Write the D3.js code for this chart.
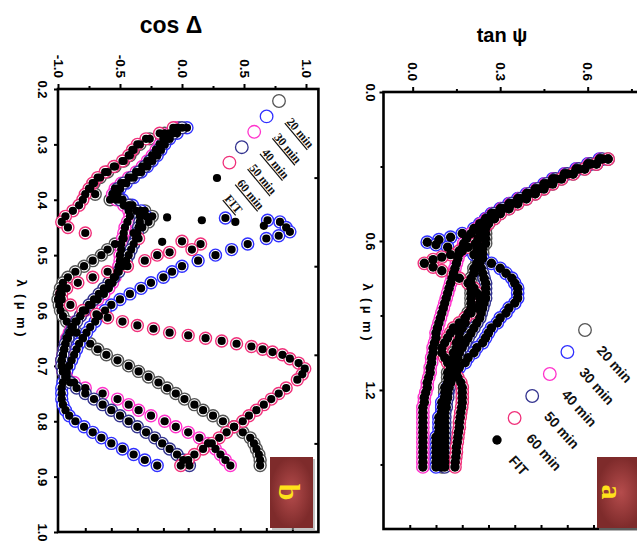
<!DOCTYPE html>
<html>
<head>
<meta charset="utf-8">
<script src="https://d3js.org/d3.v7.min.js"></script>
<style>
body { margin: 0; background: #fff; }
text { font-family: "Liberation Sans", Arial, sans-serif; font-weight: bold; }
</style>
</head>
<body>
<div id="visu"></div>
<script>

// Séries (temps de dépôt) et couleurs
var series = ["20 min", "30 min", "40 min", "50 min", "60 min"];
var couleurs = ["#555555", "#3030ff", "#ff33cc", "#33338f", "#f0307a"];

// Panneau b : [lambda (µm), cos Delta]
var b20 = [[0.27,-0.03],[0.28,-0.14],[0.29,-0.26],[0.30,-0.34],[0.31,-0.39],[0.32,-0.42],[0.33,-0.47],[0.34,-0.54],[0.35,-0.6],[0.36,-0.66],[0.37,-0.71],[0.38,-0.74],[0.39,-0.7],[0.40,-0.58],[0.41,-0.42],[0.42,-0.3],[0.43,-0.24],[0.44,-0.27],[0.45,-0.32],[0.46,-0.39],[0.47,-0.47],[0.48,-0.54],[0.49,-0.6],[0.50,-0.65],[0.51,-0.72],[0.52,-0.79],[0.53,-0.86],[0.54,-0.92],[0.55,-0.96],[0.56,-0.98],[0.57,-0.99],[0.58,-1.0],[0.59,-0.99],[0.60,-0.98],[0.61,-0.96],[0.62,-0.93],[0.63,-0.89],[0.64,-0.85],[0.65,-0.8],[0.66,-0.74],[0.67,-0.68],[0.68,-0.61],[0.69,-0.52],[0.70,-0.43],[0.71,-0.35],[0.72,-0.27],[0.73,-0.19],[0.74,-0.12],[0.75,-0.05],[0.76,0.02],[0.77,0.1],[0.78,0.17],[0.79,0.25],[0.80,0.33],[0.81,0.42],[0.82,0.49],[0.83,0.55],[0.84,0.58],[0.85,0.6],[0.86,0.62],[0.87,0.63],[0.88,0.63]];
var b30 = [[0.27,0.04],[0.28,-0.04],[0.29,-0.1],[0.30,-0.14],[0.31,-0.17],[0.32,-0.2],[0.33,-0.24],[0.34,-0.28],[0.35,-0.33],[0.36,-0.39],[0.37,-0.45],[0.38,-0.5],[0.39,-0.52],[0.40,-0.48],[0.41,-0.4],[0.42,-0.33],[0.43,-0.29],[0.433,0.35],[0.437,0.69],[0.44,0.79],[0.45,0.84],[0.458,0.87],[0.465,0.78],[0.47,0.68],[0.48,0.53],[0.49,0.4],[0.50,0.27],[0.51,0.13],[0.52,0.0],[0.53,-0.08],[0.54,-0.15],[0.55,-0.25],[0.56,-0.33],[0.57,-0.42],[0.58,-0.5],[0.59,-0.57],[0.60,-0.62],[0.61,-0.67],[0.62,-0.7],[0.63,-0.74],[0.64,-0.77],[0.65,-0.8],[0.66,-0.83],[0.67,-0.85],[0.68,-0.87],[0.69,-0.89],[0.70,-0.91],[0.71,-0.93],[0.72,-0.94],[0.73,-0.96],[0.74,-0.97],[0.75,-0.97],[0.76,-0.97],[0.77,-0.96],[0.78,-0.94],[0.79,-0.91],[0.80,-0.86],[0.81,-0.79],[0.82,-0.72],[0.83,-0.65],[0.84,-0.57],[0.85,-0.48],[0.86,-0.39],[0.87,-0.3],[0.88,-0.2]];
var b40 = [[0.27,-0.05],[0.28,-0.1],[0.29,-0.15],[0.30,-0.18],[0.31,-0.21],[0.32,-0.24],[0.33,-0.28],[0.34,-0.32],[0.35,-0.37],[0.36,-0.43],[0.37,-0.49],[0.38,-0.54],[0.39,-0.56],[0.40,-0.53],[0.41,-0.47],[0.42,-0.43],[0.43,-0.42],[0.44,-0.44],[0.45,-0.46],[0.46,-0.47],[0.47,-0.48],[0.48,-0.49],[0.49,-0.49],[0.50,-0.5],[0.51,-0.5],[0.52,-0.51],[0.53,-0.52],[0.54,-0.54],[0.55,-0.56],[0.56,-0.59],[0.57,-0.63],[0.58,-0.68],[0.59,-0.73],[0.60,-0.78],[0.61,-0.82],[0.62,-0.86],[0.63,-0.89],[0.64,-0.91],[0.65,-0.93],[0.66,-0.94],[0.67,-0.95],[0.68,-0.96],[0.69,-0.97],[0.70,-0.97],[0.71,-0.96],[0.72,-0.93],[0.73,-0.87],[0.74,-0.78],[0.75,-0.64],[0.76,-0.52],[0.77,-0.43],[0.78,-0.35],[0.79,-0.25],[0.80,-0.14],[0.81,-0.05],[0.82,0.05],[0.83,0.14],[0.84,0.21],[0.85,0.27],[0.86,0.31],[0.87,0.35],[0.88,0.39]];
var b50 = [[0.27,0.0],[0.28,-0.07],[0.29,-0.12],[0.30,-0.16],[0.31,-0.19],[0.32,-0.22],[0.33,-0.26],[0.34,-0.3],[0.35,-0.35],[0.36,-0.41],[0.37,-0.47],[0.38,-0.52],[0.39,-0.54],[0.40,-0.5],[0.41,-0.43],[0.42,-0.37],[0.43,-0.34],[0.44,-0.34],[0.45,-0.35],[0.46,-0.36],[0.47,-0.37],[0.48,-0.39],[0.49,-0.41],[0.50,-0.43],[0.51,-0.45],[0.52,-0.48],[0.53,-0.51],[0.54,-0.55],[0.55,-0.59],[0.56,-0.63],[0.57,-0.67],[0.58,-0.71],[0.59,-0.75],[0.60,-0.79],[0.61,-0.82],[0.62,-0.85],[0.63,-0.88],[0.64,-0.9],[0.65,-0.92],[0.66,-0.94],[0.67,-0.95],[0.68,-0.96],[0.69,-0.97],[0.70,-0.97],[0.71,-0.96],[0.72,-0.94],[0.73,-0.9],[0.74,-0.85],[0.75,-0.78],[0.76,-0.71],[0.77,-0.64],[0.78,-0.57],[0.79,-0.5],[0.80,-0.43],[0.81,-0.36],[0.82,-0.29],[0.83,-0.22],[0.84,-0.16],[0.85,-0.1],[0.86,-0.04],[0.87,0.01],[0.88,0.06]];
var b60 = [[0.27,-0.07],[0.28,-0.18],[0.29,-0.29],[0.30,-0.36],[0.31,-0.4],[0.32,-0.43],[0.33,-0.48],[0.34,-0.55],[0.35,-0.62],[0.36,-0.68],[0.37,-0.72],[0.38,-0.75],[0.39,-0.78],[0.40,-0.8],[0.41,-0.83],[0.42,-0.88],[0.43,-0.94],[0.44,-0.97],[0.45,-0.92],[0.46,-0.78],[0.47,-0.35],[0.475,0.0],[0.48,0.15],[0.49,0.08],[0.495,-0.1],[0.50,-0.2],[0.51,-0.3],[0.52,-0.44],[0.53,-0.6],[0.54,-0.72],[0.55,-0.84],[0.56,-0.93],[0.57,-0.97],[0.58,-0.97],[0.59,-0.9],[0.60,-0.8],[0.607,-0.69],[0.613,-0.6],[0.62,-0.48],[0.627,-0.36],[0.633,-0.23],[0.64,-0.1],[0.645,0.05],[0.65,0.19],[0.655,0.32],[0.66,0.44],[0.665,0.56],[0.67,0.65],[0.675,0.73],[0.68,0.81],[0.687,0.87],[0.695,0.94],[0.705,0.99],[0.715,0.97],[0.725,0.93],[0.74,0.84],[0.75,0.78],[0.76,0.72],[0.77,0.66],[0.78,0.6],[0.79,0.54],[0.80,0.49],[0.81,0.42],[0.82,0.36],[0.83,0.3],[0.84,0.24],[0.85,0.17],[0.86,0.1],[0.87,0.05],[0.88,-0.01]];
// points isolés du FIT (saut rapide)
var bFitSeul = [[0.432,-0.12],[0.437,0.16],[0.44,0.43],[0.447,0.66],[0.476,-0.16]];

// Panneau a : [lambda (µm), tan Psi]
var a20 = [[0.27,0.67],[0.29,0.63],[0.31,0.59],[0.33,0.55],[0.35,0.51],[0.37,0.48],[0.39,0.45],[0.41,0.42],[0.43,0.39],[0.45,0.36],[0.47,0.33],[0.49,0.3],[0.51,0.28],[0.53,0.26],[0.55,0.25],[0.57,0.25],[0.59,0.25],[0.61,0.25],[0.63,0.24],[0.65,0.24],[0.67,0.23],[0.69,0.22],[0.71,0.21],[0.73,0.21],[0.75,0.2],[0.77,0.2],[0.79,0.2],[0.81,0.2],[0.83,0.2],[0.85,0.2],[0.87,0.2],[0.89,0.19],[0.91,0.18],[0.93,0.18],[0.95,0.17],[0.97,0.16],[0.99,0.16],[1.01,0.15],[1.03,0.15],[1.05,0.14],[1.07,0.14],[1.09,0.13],[1.11,0.13],[1.13,0.12],[1.15,0.12],[1.17,0.12],[1.19,0.11],[1.21,0.11],[1.23,0.11],[1.25,0.11],[1.27,0.1],[1.29,0.1],[1.31,0.1],[1.33,0.1],[1.35,0.1],[1.37,0.1],[1.39,0.1],[1.41,0.1],[1.43,0.1],[1.45,0.1],[1.47,0.1],[1.49,0.1],[1.51,0.1]];
var a30 = [[0.27,0.64],[0.29,0.6],[0.31,0.56],[0.33,0.52],[0.35,0.48],[0.37,0.45],[0.39,0.42],[0.41,0.39],[0.43,0.36],[0.45,0.33],[0.47,0.3],[0.49,0.27],[0.51,0.25],[0.53,0.23],[0.55,0.21],[0.57,0.17],[0.585,0.13],[0.595,0.09],[0.605,0.05],[0.615,0.08],[0.625,0.12],[0.64,0.17],[0.655,0.21],[0.67,0.24],[0.69,0.27],[0.71,0.3],[0.73,0.32],[0.75,0.34],[0.77,0.35],[0.79,0.36],[0.81,0.36],[0.83,0.36],[0.85,0.35],[0.87,0.33],[0.89,0.32],[0.91,0.3],[0.93,0.29],[0.95,0.27],[0.97,0.26],[0.99,0.25],[1.01,0.24],[1.03,0.22],[1.05,0.21],[1.07,0.19],[1.09,0.18],[1.11,0.16],[1.13,0.15],[1.15,0.14],[1.17,0.13],[1.19,0.12],[1.21,0.12],[1.23,0.11],[1.25,0.1],[1.27,0.1],[1.29,0.1],[1.31,0.09],[1.33,0.09],[1.35,0.09],[1.37,0.09],[1.39,0.08],[1.41,0.08],[1.43,0.08],[1.45,0.08],[1.47,0.08],[1.49,0.08],[1.51,0.08]];
var a40 = [[0.27,0.645],[0.29,0.605],[0.31,0.565],[0.33,0.525],[0.35,0.485],[0.37,0.455],[0.39,0.425],[0.41,0.395],[0.43,0.365],[0.45,0.335],[0.47,0.305],[0.49,0.275],[0.51,0.255],[0.53,0.235],[0.55,0.22],[0.57,0.2],[0.59,0.185],[0.61,0.175],[0.63,0.17],[0.65,0.16],[0.67,0.155],[0.69,0.15],[0.71,0.145],[0.73,0.14],[0.75,0.135],[0.77,0.13],[0.79,0.125],[0.81,0.12],[0.83,0.115],[0.85,0.11],[0.87,0.105],[0.89,0.1],[0.91,0.095],[0.93,0.09],[0.95,0.085],[0.97,0.08],[0.99,0.08],[1.01,0.075],[1.03,0.07],[1.05,0.07],[1.07,0.065],[1.09,0.065],[1.11,0.06],[1.13,0.06],[1.15,0.055],[1.17,0.05],[1.19,0.05],[1.21,0.045],[1.23,0.04],[1.25,0.04],[1.27,0.035],[1.29,0.035],[1.31,0.035],[1.33,0.035],[1.35,0.035],[1.37,0.035],[1.39,0.035],[1.41,0.035],[1.43,0.035],[1.45,0.035],[1.47,0.035],[1.49,0.035],[1.51,0.035]];
var a50 = [[0.27,0.65],[0.29,0.61],[0.31,0.57],[0.33,0.53],[0.35,0.49],[0.37,0.46],[0.39,0.43],[0.41,0.4],[0.43,0.37],[0.45,0.34],[0.47,0.31],[0.49,0.28],[0.51,0.26],[0.53,0.245],[0.55,0.235],[0.57,0.23],[0.59,0.225],[0.61,0.22],[0.63,0.22],[0.65,0.22],[0.67,0.225],[0.69,0.23],[0.71,0.235],[0.73,0.24],[0.75,0.245],[0.77,0.25],[0.79,0.25],[0.81,0.25],[0.83,0.25],[0.85,0.245],[0.87,0.24],[0.89,0.235],[0.91,0.23],[0.93,0.22],[0.95,0.21],[0.97,0.2],[0.99,0.19],[1.01,0.18],[1.03,0.17],[1.05,0.16],[1.07,0.155],[1.09,0.15],[1.11,0.145],[1.13,0.14],[1.15,0.135],[1.17,0.13],[1.19,0.125],[1.21,0.12],[1.23,0.12],[1.25,0.115],[1.27,0.115],[1.29,0.11],[1.31,0.11],[1.33,0.11],[1.35,0.11],[1.37,0.11],[1.39,0.11],[1.41,0.11],[1.43,0.11],[1.45,0.11],[1.47,0.11],[1.49,0.11],[1.51,0.11]];
var a60 = [[0.27,0.67],[0.29,0.63],[0.31,0.59],[0.33,0.55],[0.35,0.51],[0.37,0.48],[0.39,0.45],[0.41,0.42],[0.43,0.39],[0.45,0.36],[0.47,0.33],[0.49,0.3],[0.51,0.28],[0.53,0.26],[0.55,0.245],[0.57,0.235],[0.59,0.225],[0.61,0.215],[0.625,0.19],[0.64,0.16],[0.655,0.13],[0.665,0.1],[0.675,0.07],[0.69,0.04],[0.705,0.07],[0.72,0.1],[0.735,0.14],[0.75,0.16],[0.77,0.19],[0.79,0.21],[0.81,0.22],[0.83,0.23],[0.85,0.23],[0.87,0.22],[0.89,0.2],[0.91,0.18],[0.93,0.16],[0.95,0.14],[0.97,0.13],[0.99,0.12],[1.01,0.11],[1.03,0.1],[1.05,0.1],[1.07,0.11],[1.09,0.12],[1.11,0.13],[1.13,0.145],[1.15,0.155],[1.17,0.165],[1.19,0.17],[1.21,0.17],[1.23,0.17],[1.25,0.17],[1.27,0.168],[1.29,0.165],[1.31,0.163],[1.33,0.16],[1.35,0.16],[1.37,0.157],[1.39,0.155],[1.41,0.153],[1.43,0.15],[1.45,0.15],[1.47,0.148],[1.49,0.146],[1.51,0.145]];

// Graduations
var ticksCos = [-1.0, -0.5, 0.0, 0.5, 1.0];
var mineursCos = [-0.75, -0.25, 0.25, 0.75];
var basCos = [-0.78, -0.57, -0.36, -0.15, 0.05, 0.26, 0.47, 0.68, 0.89];
var ticksLamB = [0.2, 0.3, 0.4, 0.5, 0.6, 0.7, 0.8, 0.9, 1.0];
var droiteLamB = [0.36, 0.52, 0.68, 0.84];
var ticksTan = [0.0, 0.3, 0.6];
var mineursTan = [0.15, 0.45, 0.75];
var basTan = [-0.01, 0.08, 0.17, 0.26, 0.35, 0.44, 0.53, 0.62, 0.71, 0.8];
var ticksLamA = [0.0, 0.6, 1.2];
var mineursLamA = [0.3, 0.9, 1.5];

var svg = d3.select("#visu")
  .append("svg")
    .attr("width", 637)
    .attr("height", 542);

var defs = svg.append("defs");
var grad = defs.append("radialGradient").attr("id", "boite");
grad.append("stop").attr("offset", "0%").attr("stop-color", "#b54c4c");
grad.append("stop").attr("offset", "100%").attr("stop-color", "#7e2b2b");

// Un panneau (graphe tourné de 90°) : lambda vers le bas, valeur vers la droite
function panneau(p) {
  var x = p.x, y = p.y;
  var g = svg.append("g");

  // axe du haut (valeur)
  var haut = g.append("g").attr("transform", "translate(0," + y.range()[0] + ")");
  haut.call(d3.axisTop(x).tickValues(p.ticksX).tickSize(5).tickFormat(d => d.toFixed(1)));
  haut.selectAll("text")
    .attr("transform", "rotate(90)")
    .attr("x", -11).attr("y", 0).attr("dy", "0.35em")
    .style("text-anchor", "end").style("font-size", "13.5px").attr("fill", "#000");
  g.append("g").attr("transform", "translate(0," + y.range()[0] + ")")
    .call(d3.axisTop(x).tickValues(p.mineursX).tickSize(3).tickFormat(""));

  // axe de gauche (lambda)
  var gauche = g.append("g").attr("transform", "translate(" + x.range()[0] + ",0)");
  gauche.call(d3.axisLeft(y).tickValues(p.ticksY).tickSize(4).tickFormat(d => d.toFixed(1)));
  gauche.selectAll("text")
    .attr("transform", "rotate(90)")
    .attr("x", 0).attr("y", p.decalY).attr("dy", "0.35em")
    .style("text-anchor", "middle").style("font-size", "13px").attr("fill", "#000");
  if (p.mineursY)
    g.append("g").attr("transform", "translate(" + x.range()[0] + ",0)")
      .call(d3.axisLeft(y).tickValues(p.mineursY).tickSize(3).tickFormat(""));

  // graduations intérieures bas et droite
  g.append("g").attr("transform", "translate(0," + y.range()[1] + ")")
    .call(d3.axisTop(x).tickValues(p.basX).tickSize(4).tickFormat(""));
  if (p.droiteY)
    g.append("g").attr("transform", "translate(" + x.range()[1] + ",0)")
      .call(d3.axisLeft(y).tickValues(p.droiteY).tickSize(4).tickFormat(""));

  g.selectAll(".domain").remove();
  g.selectAll(".tick line").attr("stroke", "#000").attr("stroke-width", 2);

  // cadre
  g.append("rect")
    .attr("x", x.range()[0]).attr("y", y.range()[0])
    .attr("width", x.range()[1] - x.range()[0])
    .attr("height", y.range()[1] - y.range()[0])
    .attr("fill", "none").attr("stroke", "#000").attr("stroke-width", 2.6);

  // mesures : cercles ouverts
  p.donnees.forEach(function(d, i) {
    g.append("g").selectAll("circle")
      .data(d).enter().append("circle")
        .attr("cx", v => x(v[1])).attr("cy", v => y(v[0]))
        .attr("r", p.rayon)
        .attr("fill", "#fff").attr("stroke", couleurs[i]).attr("stroke-width", 1.4);
  });
  // FIT : points noirs
  var fit = [].concat.apply([], p.donnees).concat(p.fitSeul || []);
  g.append("g").selectAll("circle")
    .data(fit).enter().append("circle")
      .attr("cx", v => x(v[1])).attr("cy", v => y(v[0]))
      .attr("r", p.rayonFit).attr("fill", "#000");

  // titres
  svg.append("text").attr("x", p.titre[1]).attr("y", p.titre[2])
    .attr("text-anchor", "middle").style("font-size", p.titre[3])
    .text(p.titre[0]);
  svg.append("text")
    .attr("transform", "translate(" + p.lambda[0] + "," + p.lambda[1] + ") rotate(90)")
    .attr("text-anchor", "middle").attr("dy", "0.35em")
    .style("font-size", "13px").style("white-space", "pre")
    .text("λ  ( μ  m )");

  // légende
  var leg = p.legende;
  var libelles = series.concat(["FIT"]);
  libelles.forEach(function(t, i) {
    var lx = leg.x0 + i * leg.dx, ly = leg.y0 + i * leg.dy;
    if (i < 5)
      svg.append("circle").attr("cx", lx).attr("cy", ly).attr("r", 6.3)
        .attr("fill", "none").attr("stroke", couleurs[i]).attr("stroke-width", 1.3);
    else
      svg.append("circle").attr("cx", lx).attr("cy", ly).attr("r", p.rayonFit).attr("fill", "#000");
    svg.append("text")
      .attr("transform", "translate(" + (lx + leg.tx) + "," + (ly + leg.ty) + ") rotate(" + leg.angle + ")")
      .style("font-family", leg.police).style("font-size", leg.taille)
      .style("text-decoration", leg.souligne ? "underline" : "none")
      .attr("fill", "#111")
      .text(t);
  });

  // boîte lettre
  var bt = p.boite;
  svg.append("rect").attr("x", bt[0] + 2).attr("y", bt[1] + 2).attr("width", bt[2]).attr("height", bt[3])
    .attr("fill", "#999").attr("opacity", 0.6);
  svg.append("rect").attr("x", bt[0]).attr("y", bt[1]).attr("width", bt[2]).attr("height", bt[3])
    .attr("fill", "url(#boite)");
  svg.append("text")
    .attr("transform", "translate(" + bt[4] + "," + bt[5] + ") rotate(90)")
    .attr("text-anchor", "middle").attr("dy", "0.35em")
    .style("font-family", "'Liberation Serif', serif").style("font-size", "30px")
    .attr("fill", "#ffe21a")
    .text(bt[6]);
}

// Panneau b : cos Delta
panneau({
  x: d3.scaleLinear().domain([-1.0, 1.1]).range([58, 318.4]),
  y: d3.scaleLinear().domain([0.2, 1.0]).range([89, 532]),
  ticksX: ticksCos, mineursX: mineursCos, basX: basCos,
  ticksY: ticksLamB, droiteY: droiteLamB, decalY: 15,
  donnees: [b20, b30, b40, b50, b60], fitSeul: bFitSeul,
  rayon: 6, rayonFit: 4.1,
  titre: ["cos Δ", 171, 33, "23px"],
  lambda: [22, 308],
  legende: {x0: 279, y0: 101, dx: -12.4, dy: 15.4, tx: 7, ty: 21, angle: 50,
            police: "'Liberation Serif', serif", taille: "12px", souligne: true},
  boite: [270, 457, 43, 71, 289, 492, "b"]
});

// Panneau a : tan Psi
panneau({
  x: d3.scaleLinear().domain([-0.1, 0.85]).range([383.5, 660.6]),
  y: d3.scaleLinear().domain([0, 1.76]).range([92, 529]),
  ticksX: ticksTan, mineursX: mineursTan, basX: basTan,
  ticksY: ticksLamA, mineursY: mineursLamA, decalY: 13,
  donnees: [a20, a30, a40, a50, a60],
  rayon: 6.2, rayonFit: 4.7,
  titre: ["tan ψ", 502, 42, "20px"],
  lambda: [368, 312],
  legende: {x0: 585, y0: 330, dx: -17.6, dy: 22, tx: 11, ty: 21, angle: 48,
            police: "'Liberation Sans', Arial, sans-serif", taille: "14px", souligne: false},
  boite: [597, 457, 48, 71, 612, 492, "a"]
});

</script>
</body>
</html>
